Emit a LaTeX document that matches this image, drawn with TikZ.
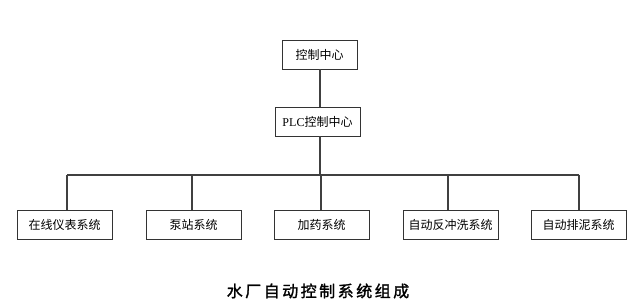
\documentclass[tikz,border=0pt]{standalone}
\usepackage{fontspec}
\setmainfont{Liberation Serif}
\newfontfamily\cjk{Noto Sans CJK SC}
\newfontfamily\cjkb{Noto Sans CJK SC}[FakeBold=1.5]
\begin{document}
\begin{tikzpicture}[x=1pt,y=1pt,
  box/.style={draw=black!80, line width=0.9pt, minimum height=29pt, inner sep=0pt, font=\fontsize{12}{14}\selectfont\cjk, fill=white},
  conn/.style={draw=black!75, line width=1.1pt}]
\useasboundingbox (0,0) rectangle (638,308);
% top
\node[box, minimum width=75pt] (top) at (319.5,253.5) {控制中心};
\node[box, minimum width=85pt] (plc) at (317.5,186.5) {{\rmfamily PLC}控制中心};
% bottom boxes
\node[box, minimum width=95pt] (b1) at (64.5,83) {在线仪表系统};
\node[box, minimum width=95pt] (b2) at (193.5,83) {泵站系统};
\node[box, minimum width=95pt] (b3) at (321.5,83) {加药系统};
\node[box, minimum width=95pt] (b4) at (450.5,83) {自动反冲洗系统};
\node[box, minimum width=95pt] (b5) at (578.5,83) {自动排泥系统};
\coordinate (bus) at (320,133);
\coordinate (v1) at (67,133);
\coordinate (v2) at (192,133);
\coordinate (v3) at (321,133);
\coordinate (v4) at (448,133);
\coordinate (v5) at (579,133);
\draw[conn] (bus |- top.south) -- (bus |- plc.north);
\draw[conn] (bus |- plc.south) -- (bus);
\draw[conn] (v1) -- (v5);
\draw[conn] (v1) -- (v1 |- b1.north);
\draw[conn] (v2) -- (v2 |- b2.north);
\draw[conn] (v3) -- (v3 |- b3.north);
\draw[conn] (v4) -- (v4 |- b4.north);
\draw[conn] (v5) -- (v5 |- b5.north);
\node[font=\fontsize{16}{18}\selectfont\cjkb] (title) at (318,17) {水\hspace{2.5pt}厂\hspace{2.5pt}自\hspace{2.5pt}动\hspace{2.5pt}控\hspace{2.5pt}制\hspace{2.5pt}系\hspace{2.5pt}统\hspace{2.5pt}组\hspace{2.5pt}成};
\end{tikzpicture}
\end{document}
